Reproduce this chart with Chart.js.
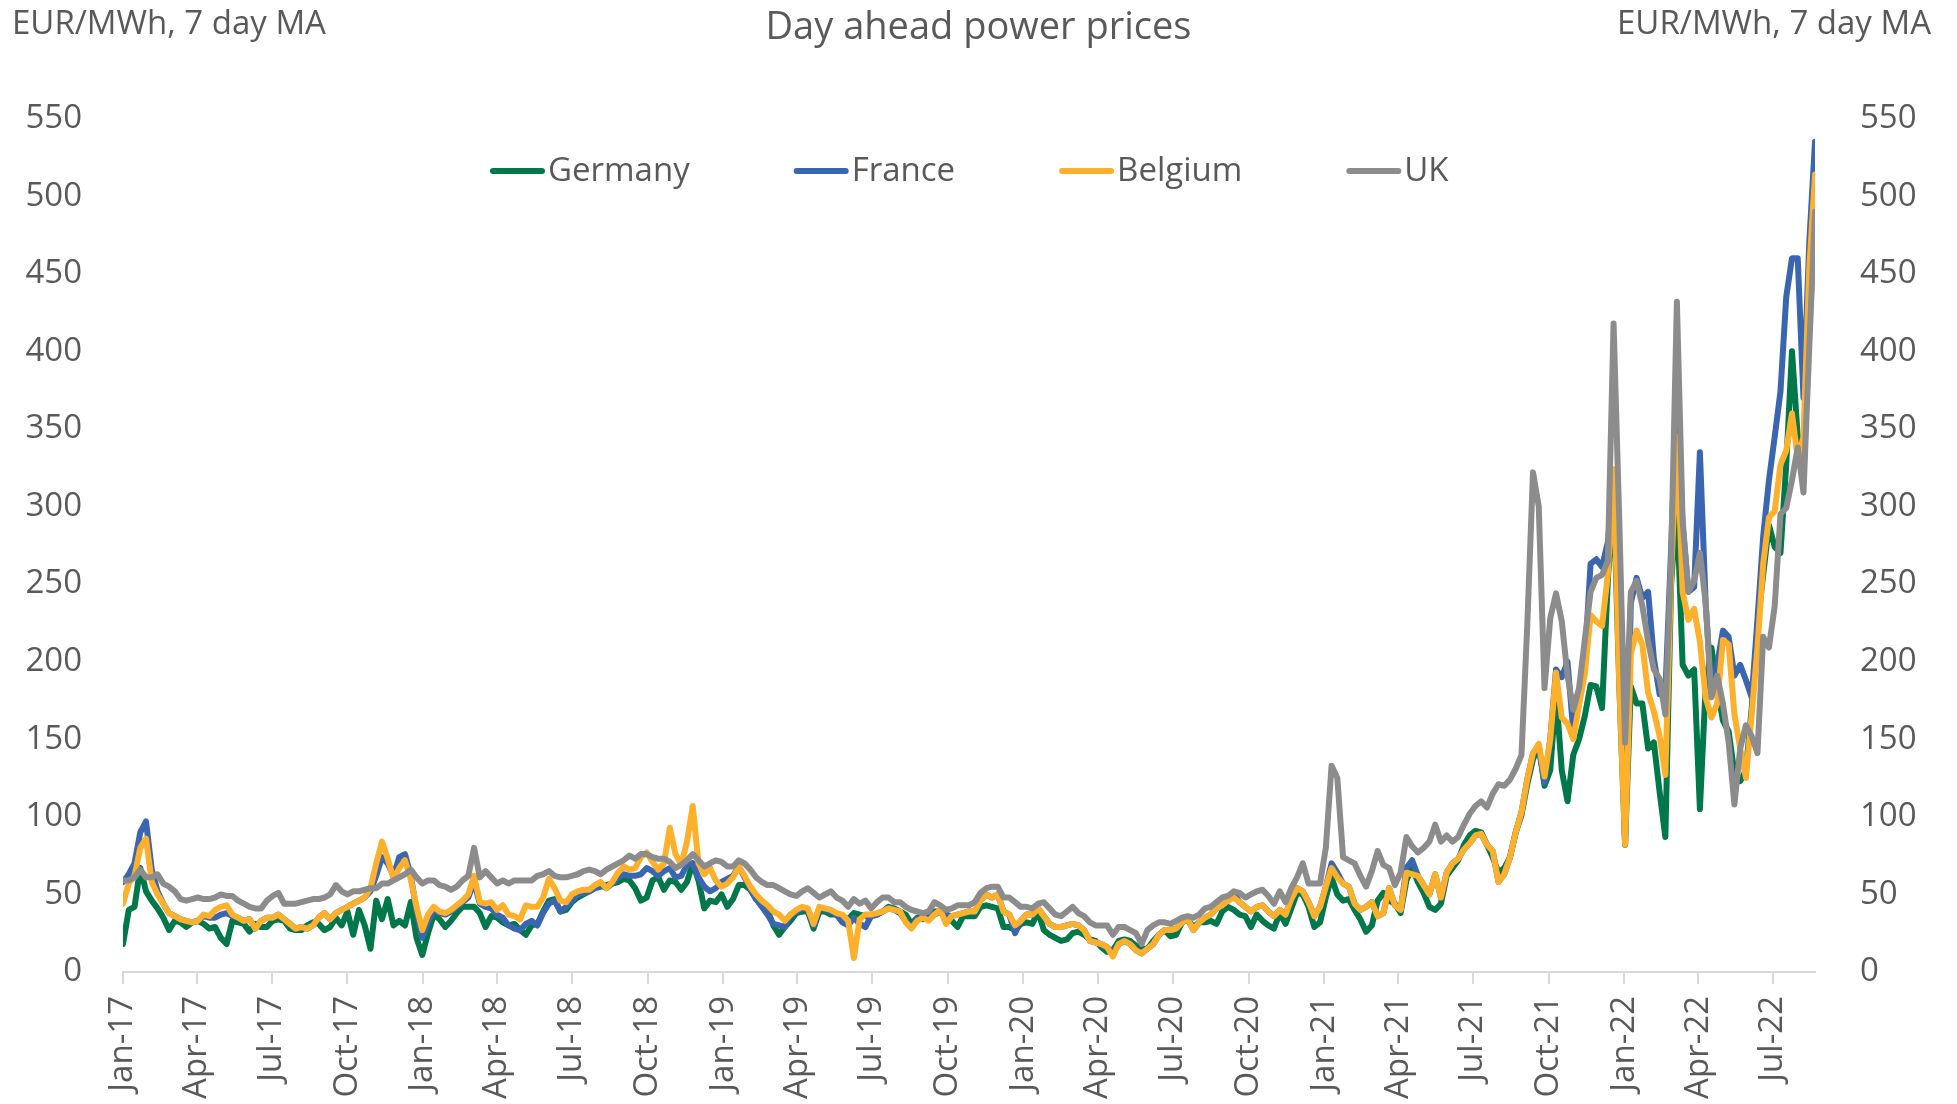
<!DOCTYPE html>
<html>
<head>
<meta charset="utf-8">
<title>Day ahead power prices</title>
<script src="https://cdn.jsdelivr.net/npm/chart.js@4.4.1/dist/chart.umd.min.js"></script>
<style>
    html, body { margin: 0; padding: 0; background: #ffffff; }
    #chart-wrap { width: 1957px; height: 1104px; }
</style>
</head>
<body>
<div id="chart-wrap"><canvas id="power-chart" width="1957" height="1104"></canvas></div>
<script>
// 7 day moving average, one reading per week, first one on 1 Jan 2017
const startYear = 2017;
const stepDays = 7;

const germany = [
    18, 40, 42, 67, 52, 46, 41, 35, 27, 33, 32, 29, 32, 33, 31, 28, 29, 22, 18, 33,
    32, 31, 26, 31, 29, 29, 33, 34, 33, 28, 27, 27, 30, 32, 31, 27, 29, 35, 30, 39,
    24, 40, 30, 15, 46, 34, 47, 30, 33, 30, 45, 22, 11,
    25, 37, 34, 29, 33, 38, 42, 42, 42, 38, 29, 36, 35, 32, 30, 31, 27, 24, 30,
    31, 39, 46, 47, 39, 40, 45, 48, 50, 52, 54, 55, 56, 57, 58, 60, 59, 54, 46, 48,
    59, 61, 53, 59, 58, 53, 58, 70, 59, 41, 46, 45, 50, 42, 47, 56, 56, 53, 47, 44,
    40, 30, 24, 29, 33, 38, 39, 39, 28, 39, 39, 37, 37, 36, 34, 38, 37, 36, 36, 37,
    39, 42, 41, 39, 37, 31, 35, 34, 37, 39, 39, 34,
    33, 29, 36, 36, 36, 42, 43, 42, 41, 29, 29, 27, 31, 32, 31, 39, 27, 24, 22, 20,
    21, 25, 26, 24, 21, 20, 16, 13, 14, 20, 21, 20, 17, 15, 15, 20, 24, 27, 23, 24,
    32, 34, 29, 32, 32, 33, 31, 39, 42, 40, 37, 36, 29, 37, 33, 30, 28, 38, 31, 41,
    51, 50, 42, 29, 32, 48, 61, 50, 46, 47,
    40, 34, 26, 30, 46, 51, 46, 44, 38, 59, 67, 58, 51, 42, 40, 44, 62, 67, 72, 82,
    88, 91, 90, 82, 74, 64, 67, 74, 90, 101, 121, 137, 146, 120, 130, 180, 130, 110, 140, 150,
    165, 185, 184, 170, 252, 309, 184, 82, 184, 173, 173, 144, 148, 116, 87, 250, 302, 198, 191, 195,
    105, 184, 209, 184, 162, 155, 128, 123, 130, 170, 223, 256, 288, 274, 270, 327, 400, 345, 317, 424,
    475
];

const france = [
    58, 63, 70, 90, 97, 66, 52, 44, 38, 36, 34, 33, 32, 33, 36, 35, 35, 37, 38, 36,
    35, 33, 34, 28, 33, 35, 35, 37, 34, 31, 28, 29, 28, 30, 35, 38, 34, 38, 40, 42,
    44, 46, 48, 52, 62, 74, 70, 62, 74, 76, 62, 40, 22,
    32, 40, 38, 37, 39, 42, 45, 48, 58, 44, 42, 41, 37, 35, 30, 28, 27, 31, 33,
    30, 38, 44, 46, 39, 42, 46, 50, 51, 52, 54, 56, 54, 57, 61, 63, 62, 62, 63, 67,
    65, 62, 65, 67, 61, 62, 69, 70, 61, 55, 52, 54, 58, 60, 62, 68, 61, 54, 47, 42,
    37, 31, 30, 29, 37, 39, 41, 40, 30, 41, 40, 39, 37, 32, 30, 35, 31, 29, 36, 37,
    39, 41, 40, 38, 33, 29, 34, 35, 35, 37, 39, 37,
    36, 37, 38, 39, 39, 46, 50, 48, 50, 39, 37, 25, 33, 37, 37, 41, 36, 31, 29, 29,
    30, 31, 30, 27, 20, 19, 18, 16, 12, 18, 20, 18, 14, 12, 15, 18, 24, 27, 27, 28,
    32, 34, 27, 32, 35, 37, 41, 43, 46, 51, 45, 42, 39, 42, 43, 39, 36, 40, 37, 47,
    54, 52, 45, 36, 42, 55, 70, 64, 57, 55,
    44, 40, 42, 45, 36, 38, 54, 43, 40, 67, 72, 62, 56, 50, 63, 48, 64, 70, 73, 79,
    83, 88, 89, 82, 78, 58, 63, 74, 90, 103, 124, 141, 145, 122, 150, 195, 190, 200, 155, 175,
    200, 263, 266, 261, 277, 317, 220, 82, 238, 254, 241, 245, 202, 179, 180, 273, 374, 288, 245, 248,
    335, 238, 180, 198, 220, 216, 191, 198, 188, 177, 227, 281, 317, 345, 374, 435, 460, 460, 370, 470,
    535
];

const belgium = [
    44, 57, 62, 80, 86, 58, 50, 44, 38, 36, 34, 33, 32, 33, 37, 36, 40, 42, 43, 37,
    35, 33, 34, 28, 33, 35, 35, 37, 34, 31, 28, 29, 28, 30, 35, 38, 34, 38, 40, 42,
    44, 46, 48, 54, 70, 84, 73, 60, 67, 72, 60, 42, 27,
    37, 42, 39, 38, 40, 43, 46, 50, 62, 45, 44, 45, 40, 43, 37, 36, 34, 43, 42,
    42, 48, 60, 54, 46, 45, 50, 52, 53, 53, 56, 58, 54, 58, 64, 68, 66, 67, 74, 77,
    71, 66, 70, 93, 76, 69, 84, 107, 70, 63, 67, 59, 55, 57, 61, 68, 62, 55, 50, 46,
    43, 39, 37, 33, 37, 40, 42, 41, 31, 42, 41, 40, 38, 37, 33, 9, 34, 37, 37, 38,
    39, 41, 40, 39, 32, 28, 33, 35, 33, 37, 40, 31,
    36, 37, 38, 39, 39, 46, 50, 48, 50, 39, 37, 30, 33, 37, 37, 41, 36, 31, 29, 29,
    30, 31, 30, 27, 20, 19, 18, 16, 10, 18, 20, 18, 14, 12, 15, 18, 24, 27, 27, 28,
    32, 34, 27, 32, 35, 37, 41, 43, 46, 48, 45, 42, 39, 42, 43, 39, 36, 40, 37, 47,
    54, 52, 45, 36, 42, 55, 67, 61, 57, 55,
    44, 40, 42, 45, 36, 38, 54, 43, 40, 64, 63, 62, 56, 50, 63, 48, 64, 70, 73, 79,
    83, 88, 89, 82, 78, 58, 63, 74, 90, 103, 124, 141, 147, 126, 150, 193, 164, 160, 150, 172,
    192, 230, 226, 223, 256, 324, 184, 82, 205, 220, 211, 180, 168, 152, 127, 255, 345, 245, 227, 234,
    213, 177, 164, 173, 214, 211, 166, 144, 125, 166, 209, 263, 293, 297, 327, 336, 360, 331, 345, 453,
    514
];

const uk = [
    59, 59, 61, 66, 61, 61, 63, 57, 55, 52, 47, 46, 47, 48, 47, 47, 48, 50, 49, 49,
    46, 44, 42, 41, 41, 46, 49, 51, 44, 44, 44, 45, 46, 47, 47, 48, 50, 56, 52, 50,
    52, 52, 53, 54, 54, 57, 57, 59, 61, 63, 66, 61, 57,
    59, 59, 56, 55, 53, 55, 59, 62, 80, 61, 65, 61, 57, 59, 57, 59, 59, 59, 59,
    62, 63, 65, 62, 61, 61, 62, 63, 65, 66, 65, 63, 66, 68, 70, 72, 75, 73, 76, 76,
    74, 73, 73, 71, 67, 69, 72, 76, 72, 68, 70, 72, 71, 68, 68, 72, 70, 66, 61, 58,
    56, 56, 54, 52, 50, 49, 52, 54, 51, 48, 50, 52, 48, 46, 42, 47, 44, 46, 41, 45,
    48, 48, 45, 45, 42, 40, 39, 38, 39, 45, 43, 40,
    41, 43, 43, 43, 45, 51, 54, 55, 55, 48, 48, 45, 42, 42, 41, 44, 45, 41, 37, 36,
    39, 42, 38, 36, 32, 30, 30, 30, 24, 29, 29, 27, 25, 18, 27, 30, 32, 32, 31, 33,
    35, 36, 35, 37, 41, 42, 45, 48, 49, 52, 51, 48, 50, 52, 53, 49, 44, 52, 45, 54,
    61, 70, 57, 57, 57, 80, 133, 125, 74, 72,
    70, 62, 55, 65, 78, 69, 67, 56, 64, 87, 81, 77, 80, 84, 95, 84, 88, 84, 87, 95,
    102, 107, 110, 106, 115, 121, 120, 124, 131, 140, 223, 322, 300, 183, 228, 244, 226, 191, 169, 183,
    214, 245, 254, 256, 265, 418, 290, 148, 245, 252, 236, 213, 195, 189, 166, 266, 432, 291, 245, 252,
    270, 238, 177, 191, 173, 148, 108, 144, 159, 152, 141, 216, 209, 236, 295, 299, 317, 338, 309, 402,
    490
];

const seriesNames = ['Germany', 'France', 'Belgium', 'UK'];
const seriesColors = ['#00784A', '#3A66B1', '#FDB02B', '#8C8C8C'];

const tickLabels = [
    'Jan-17', 'Apr-17', 'Jul-17', 'Oct-17', 'Jan-18', 'Apr-18', 'Jul-18', 'Oct-18',
    'Jan-19', 'Apr-19', 'Jul-19', 'Oct-19', 'Jan-20', 'Apr-20', 'Jul-20', 'Oct-20',
    'Jan-21', 'Apr-21', 'Jul-21', 'Oct-21', 'Jan-22', 'Apr-22', 'Jul-22'
];

const chartTitle = 'Day ahead power prices';
const unitLabel = 'EUR/MWh, 7 day MA';
const textColor = '#595959';
const fontFamily = "'Open Sans', sans-serif";

const monthNames = ['Jan', 'Feb', 'Mar', 'Apr', 'May', 'Jun', 'Jul', 'Aug', 'Sep', 'Oct', 'Nov', 'Dec'];

// 'Apr-18' -> days since 1 Jan 2017
function labelToDay(label) {
    const parts = label.split('-');
    const month = monthNames.indexOf(parts[0]);
    const year = 2000 + parseInt(parts[1], 10);
    return (Date.UTC(year, month, 1) - Date.UTC(startYear, 0, 1)) / 86400000;
}

const tickDays = tickLabels.map(labelToDay);

function toPoints(values) {
    return values.map((v, i) => ({ x: i * stepDays, y: v }));
}

// unit captions above both value axes
const unitCaptions = {
    id: 'unitCaptions',
    afterDraw(chart) {
        const ctx = chart.ctx;
        ctx.save();
        ctx.font = "33px 'Open Sans'";
        ctx.fillStyle = textColor;
        ctx.textBaseline = 'alphabetic';
        ctx.textAlign = 'left';
        ctx.fillText(unitLabel, 12, 34);
        ctx.textAlign = 'right';
        ctx.fillText(unitLabel, 1931, 34);
        ctx.restore();
    }
};

// legend sits inside the plot, under the top of the value range
const inlineLegend = {
    id: 'inlineLegend',
    afterDraw(chart) {
        const ctx = chart.ctx;
        const y = 171;
        let x = 490;
        ctx.save();
        ctx.font = "33px 'Open Sans'";
        ctx.textBaseline = 'middle';
        ctx.textAlign = 'left';
        chart.data.datasets.forEach(ds => {
            ctx.strokeStyle = ds.borderColor;
            ctx.lineWidth = 6;
            ctx.lineCap = 'round';
            ctx.beginPath();
            ctx.moveTo(x + 3, y);
            ctx.lineTo(x + 52, y);
            ctx.stroke();
            ctx.fillStyle = textColor;
            ctx.fillText(ds.label, x + 58, y + 1);
            x += 58 + ctx.measureText(ds.label).width + 104;
        });
        ctx.restore();
    }
};

document.addEventListener('DOMContentLoaded', function() {
    const values = [germany, france, belgium, uk];
    const lastDay = (germany.length - 1) * stepDays;

    const datasets = values.map((vals, i) => ({
        label: seriesNames[i],
        data: toPoints(vals),
        borderColor: seriesColors[i],
        backgroundColor: seriesColors[i],
        borderWidth: 6,
        borderJoinStyle: 'round',
        borderCapStyle: 'round',
        pointRadius: 0,
        tension: 0,
        fill: false,
        order: values.length - i   // UK on top, Germany at the bottom
    }));

    const valueTicks = {
        color: textColor,
        font: { family: fontFamily, size: 33 },
        stepSize: 50
    };

    new Chart(document.getElementById('power-chart'), {
        type: 'line',
        data: { datasets: datasets },
        options: {
            responsive: false,
            animation: false,
            devicePixelRatio: 1,
            events: [],
            layout: { padding: 0 },
            plugins: {
                legend: { display: false },
                tooltip: { enabled: false },
                title: {
                    display: true,
                    text: chartTitle,
                    color: textColor,
                    font: { family: fontFamily, size: 38, weight: 'normal', lineHeight: 1.2 },
                    padding: { top: 5, bottom: 68 }
                }
            },
            scales: {
                x: {
                    type: 'linear',
                    min: 0,
                    max: lastDay,
                    afterBuildTicks: scale => {
                        scale.ticks = tickDays.map(d => ({ value: d }));
                    },
                    afterFit: scale => { scale.height = 132; },
                    ticks: {
                        autoSkip: false,
                        minRotation: 90,
                        maxRotation: 90,
                        padding: 12,
                        color: textColor,
                        font: { family: fontFamily, size: 33 },
                        callback: value => tickLabels[tickDays.indexOf(value)]
                    },
                    grid: {
                        display: true,
                        drawOnChartArea: false,
                        drawTicks: true,
                        tickLength: 12,
                        color: '#D9D9D9',
                        lineWidth: 2
                    },
                    border: { display: true, color: '#D9D9D9', width: 2 }
                },
                y: {
                    position: 'left',
                    min: 0,
                    max: 550,
                    afterFit: scale => { scale.width = 123; },
                    ticks: Object.assign({ padding: 33 }, valueTicks),
                    grid: { display: false },
                    border: { display: false }
                },
                y2: {
                    position: 'right',
                    min: 0,
                    max: 550,
                    afterFit: scale => { scale.width = 142; },
                    ticks: Object.assign({ padding: 37 }, valueTicks),
                    grid: { display: false },
                    border: { display: false }
                }
            }
        },
        plugins: [unitCaptions, inlineLegend]
    });
});
</script>
</body>
</html>
